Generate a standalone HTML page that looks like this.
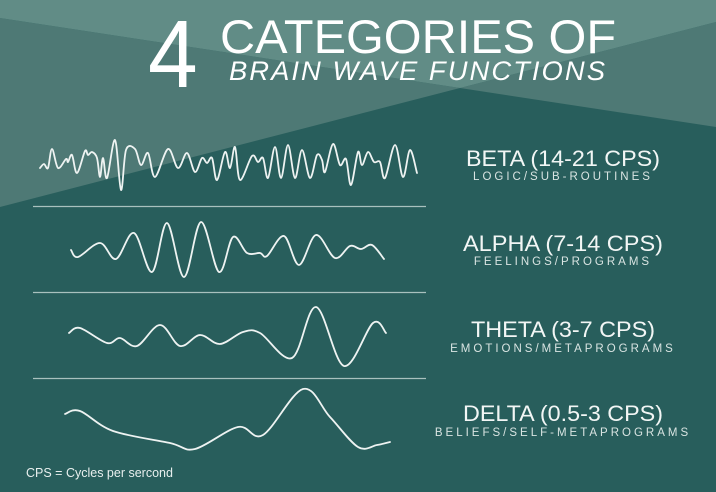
<!DOCTYPE html>
<html><head><meta charset="utf-8"><style>
html,body{margin:0;padding:0;}
body{width:716px;height:492px;overflow:hidden;background:#285e5c;position:relative;font-family:"Liberation Sans","DejaVu Sans",sans-serif;color:#fff;}
svg{position:absolute;left:0;top:0;}
</style></head><body>
<svg width="716" height="492" viewBox="0 0 716 492">
<rect width="716" height="492" fill="#285e5c"/>
<polygon points="0,18 460,88 716,22 716,127 460,88 0,207" fill="#4e7975"/>
<polygon points="0,0 716,0 716,22 460,88 0,18" fill="#618c86"/>
<g font-family="Liberation Sans, DejaVu Sans, sans-serif" fill="#fff">
<text x="0" y="0" font-size="94" transform="translate(148,87) scale(0.95,1.02)">4</text>
<text x="220" y="53" font-size="47" textLength="396" lengthAdjust="spacingAndGlyphs">CATEGORIES OF</text>
<text x="229" y="80" font-size="27" font-style="italic" textLength="378" lengthAdjust="spacingAndGlyphs" letter-spacing="2">BRAIN WAVE FUNCTIONS</text>
<g text-anchor="middle" fill="#f2f6f5">
<text x="563" y="166" font-size="22" textLength="194" lengthAdjust="spacingAndGlyphs">BETA (14-21 CPS)</text>
<text x="563" y="180" font-size="11.5" letter-spacing="3" fill="#d9e4e2">LOGIC/SUB-ROUTINES</text>
<text x="563" y="251" font-size="22" textLength="200" lengthAdjust="spacingAndGlyphs">ALPHA (7-14 CPS)</text>
<text x="563" y="265" font-size="11.5" letter-spacing="3" fill="#d9e4e2">FEELINGS/PROGRAMS</text>
<text x="563" y="337" font-size="22" textLength="184" lengthAdjust="spacingAndGlyphs">THETA (3-7 CPS)</text>
<text x="563" y="352" font-size="11.5" letter-spacing="3" fill="#d9e4e2">EMOTIONS/METAPROGRAMS</text>
<text x="563" y="421" font-size="22" textLength="200" lengthAdjust="spacingAndGlyphs">DELTA (0.5-3 CPS)</text>
<text x="563" y="436" font-size="11.5" letter-spacing="3" fill="#d9e4e2">BELIEFS/SELF-METAPROGRAMS</text>
</g>
<text x="26" y="477" font-size="12.5" fill="#e8efee">CPS = Cycles per sercond</text>
</g>
<g stroke="#a9c1be" stroke-width="1.2">
<line x1="33" y1="206.5" x2="426" y2="206.5"/>
<line x1="33" y1="292.5" x2="426" y2="292.5"/>
<line x1="33" y1="378.5" x2="426" y2="378.5"/>
</g>
<g id="waves" fill="none" stroke="#eef3f2" stroke-width="1.8" stroke-linecap="round" stroke-linejoin="round"></g>
</svg>
<script>
var W={
beta:[[40,168],[44,164],[48,168],[52,149],[58,168],[66,159],[68,162],[72,155],[77,173],[85,151],[88,155],[92,152],[97,158],[100,177],[103,158],[107,178],[115,140],[121,190],[126,150],[135,149],[141,165],[148,153],[155,177],[168,149],[178,168],[187,153],[195,172],[202,158],[207,163],[212,158],[217,180],[225,152],[230,168],[235,147],[240,180],[252,156],[258,162],[263,158],[268,178],[275,147],[281,178],[288,145],[295,178],[302,150],[310,178],[317,155],[322,160],[325,172],[333,144],[340,165],[346,159],[351,185],[358,152],[362,165],[368,152],[374,162],[380,162],[385,178],[395,145],[403,177],[410,150],[417,173]],
alpha:[[71,250],[78,257],[100,243],[116,259],[134,233],[152,272],[167,223],[184,277],[201,222],[219,272],[233,237],[247,253],[260,253],[267,256],[284,236],[299,265],[316,235],[335,258],[350,246],[361,249],[372,245],[384,259]],
theta:[[69,333],[80,328],[107,343],[120,338],[137,346],[160,325],[180,346],[200,335],[220,344],[243,332],[260,333],[292,358],[316,307],[344,366],[373,323],[386,333]],
delta:[[65,414],[80,411],[113,431],[170,443],[195,449],[238,427],[263,435],[303,389],[330,417],[358,447],[377,445],[390,442]]
};
var g=document.getElementById('waves');
for(var k in W){var p=W[k],d='M'+p[0][0]+','+p[0][1];
for(var i=0;i<p.length-1;i++){var p0=p[i-1]||p[i],p1=p[i],p2=p[i+1],p3=p[i+2]||p2;
d+=' C'+(p1[0]+(p2[0]-p0[0])/6).toFixed(1)+','+(p1[1]+(p2[1]-p0[1])/6).toFixed(1)+' '+(p2[0]-(p3[0]-p1[0])/6).toFixed(1)+','+(p2[1]-(p3[1]-p1[1])/6).toFixed(1)+' '+p2[0]+','+p2[1];}
var e=document.createElementNS('http://www.w3.org/2000/svg','path');e.setAttribute('d',d);g.appendChild(e);}
</script>
</body></html>
